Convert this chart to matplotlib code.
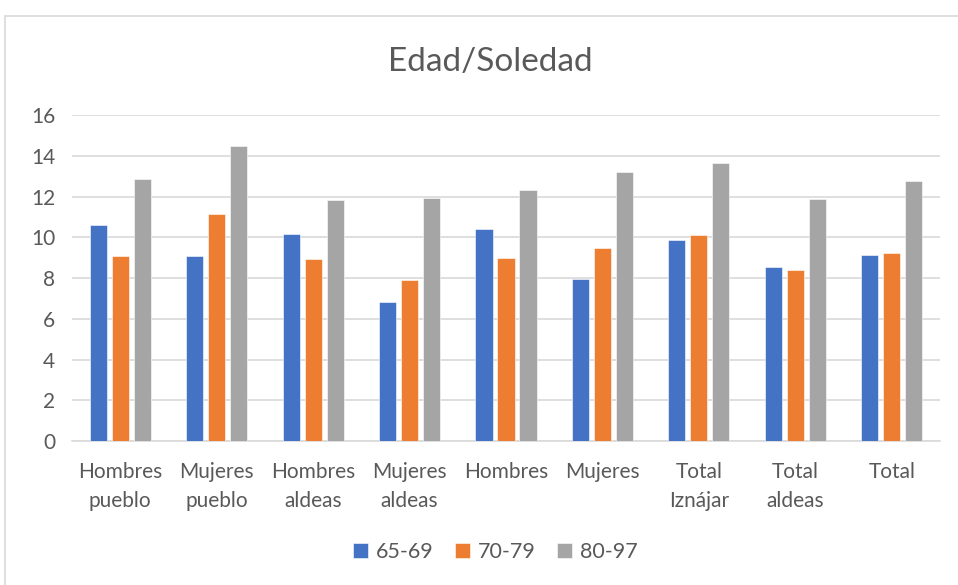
import matplotlib
matplotlib.use("Agg")
import matplotlib.pyplot as plt
import numpy as np
from matplotlib.patches import Rectangle

categories = ["Hombres\npueblo", "Mujeres\npueblo", "Hombres\naldeas", "Mujeres\naldeas",
              "Hombres", "Mujeres", "Total\nIznájar", "Total\naldeas", "Total"]
series_names = ["65-69", "70-79", "80-97"]
v_65_69 = [10.61, 9.10, 10.16, 6.82, 10.43, 7.97, 9.87, 8.54, 9.16]
v_70_79 = [9.10, 11.13, 8.92, 7.90, 8.98, 9.49, 10.11, 8.39, 9.23]
v_80_97 = [12.89, 14.48, 11.82, 11.95, 12.33, 13.21, 13.66, 11.89, 12.77]
colors = ["#4472C4", "#ED7D31", "#A5A5A5"]

plt.rcParams["font.family"] = ["Lato", "DejaVu Sans"]
text_col = "#595959"

fig = plt.figure(figsize=(9.58, 5.85), dpi=100)
ax = fig.add_axes([0.0752, 0.246, 0.906, 0.557])

# outer chart border
fig.patches.append(Rectangle((5 / 958, -0.1), 1.1, 1 - 16 / 585 + 0.1,
                             transform=fig.transFigure, fill=False,
                             edgecolor="#d9d9d9", linewidth=1.2))

x = np.arange(len(categories))
w = 0.178
step = 0.228
for i, (vals, name) in enumerate(zip([v_65_69, v_70_79, v_80_97], series_names)):
    ax.bar(x + (i - 1) * step, vals, width=w, color=colors[i], label=name,
           edgecolor="white", linewidth=0.4, zorder=3)

ax.set_xlim(-0.5, len(categories) - 0.5)
ax.set_ylim(0, 16)
ax.set_yticks(range(0, 17, 2))
ax.grid(axis="y", color="#d9d9d9", linewidth=1.2, zorder=0)
for s in ["top", "right", "left"]:
    ax.spines[s].set_visible(False)
ax.spines["bottom"].set_color("#d9d9d9")
ax.spines["bottom"].set_linewidth(1.2)
ax.tick_params(length=0, colors=text_col, labelsize=15)
ax.tick_params(axis="y", pad=12)
ax.tick_params(axis="x", pad=15)
ax.set_xticks(x)
ax.set_xticklabels(categories, linespacing=1.55)

fig.text(0.512, 0.894, "Edad/Soledad", ha="center", va="center",
         fontsize=24, color=text_col)

leg = fig.legend(loc="center", bbox_to_anchor=(0.517, 0.057), ncol=3, frameon=False,
                 fontsize=15.5, handlelength=0.7, handleheight=0.7,
                 handletextpad=0.35, columnspacing=1.0)
for t in leg.get_texts():
    t.set_color(text_col)

fig.savefig("out.png", dpi=100)
